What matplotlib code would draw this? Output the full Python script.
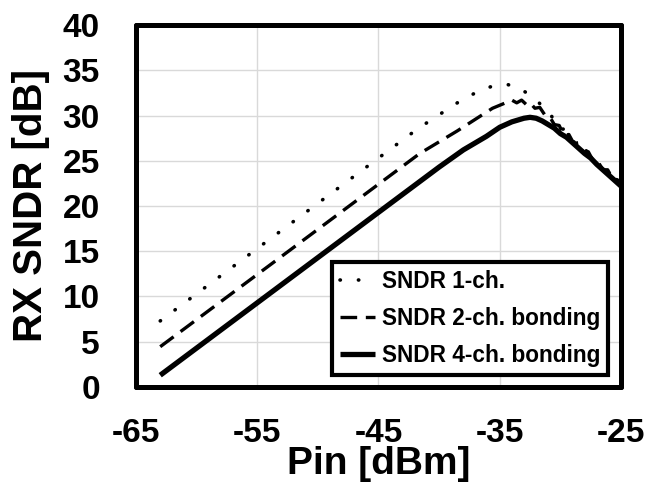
import numpy as np
import matplotlib
matplotlib.use('Agg')
import matplotlib.pyplot as plt

plt.rcParams['font.family'] = ['Liberation Sans', 'DejaVu Sans']
plt.rcParams['font.weight'] = 'bold'
plt.rcParams['axes.unicode_minus'] = False

# SNDR 1-ch. (dotted)
pin_1ch = [-63, -41.6, -40.3, -39.1, -37.9, -36.7, -35.5, -34.3, -33.3, -32.6, -31.9, -31.4, -30.9,
           -30.6, -30.3, -30.0, -29.7, -29.4, -29.1, -28.8, -28.5, -28.2, -27.9, -27.6, -27.3,
           -27.0, -26.7, -26.4, -26.1, -25.8, -25.5, -25.2, -25.0]
sndr_1ch = [7.3, 28.7, 29.8, 30.9, 31.9, 32.7, 33.3, 33.4, 33.0, 32.3, 31.6, 30.9, 30.4,
            29.6, 29.4, 28.5, 28.5, 27.7, 27.6, 26.9, 27.0, 26.2, 26.2, 25.4, 25.5,
            24.6, 24.6, 23.9, 23.9, 23.2, 23.1, 22.5, 22.3]

# SNDR 2-ch. bonding (dashed)
pin_2ch = [-63, -41.6, -38.5, -35.6, -34.7, -34.0, -33.6, -33.2, -32.8, -32.5, -32.1, -31.7,
           -31.3, -30.9, -30.5, -30.1, -29.7, -29.3, -28.9, -28.5, -28.1, -27.7, -27.3, -26.9,
           -26.5, -26.1, -25.7, -25.3, -25.0]
sndr_2ch = [4.45, 25.8, 28.3, 30.8, 31.3, 31.7, 31.4, 31.7, 31.2, 31.4, 30.8, 30.9,
            30.1, 29.9, 29.0, 28.9, 27.8, 27.9, 26.9, 27.0, 25.9, 26.0, 25.0, 24.9,
            24.0, 24.0, 23.0, 22.9, 22.3]

# SNDR 4-ch. bonding (solid)
pin_4ch = [-63, -40, -38, -36.1, -35, -34, -33, -32.5, -32, -31.5, -31, -30.5, -30, -29.5, -29,
           -28.5, -28, -27.5, -27, -26.5, -26, -25.5, -25]
sndr_4ch = [1.3, 24.3, 26.2, 27.7, 28.7, 29.3, 29.7, 29.8, 29.7, 29.4, 29.0, 28.6, 28.0, 27.6, 27.0,
            26.4, 25.8, 25.3, 24.6, 24.0, 23.4, 22.8, 22.2]

x_ticks = [-65, -55, -45, -35, -25]
y_ticks = [0, 5, 10, 15, 20, 25, 30, 35, 40]

fig = plt.figure(figsize=(6.5, 4.83), dpi=100)
ax = fig.add_axes([0.2092, 0.1988, 0.7462, 0.7494])

ax.plot(pin_1ch, sndr_1ch, color='black', lw=2.6, linestyle=(0, (0.1, 5.0)),
        dash_capstyle='round', label='SNDR 1-ch.')
ax.plot(pin_2ch, sndr_2ch, color='black', lw=2.4, linestyle=(0, (5, 2.6)),
        label='SNDR 2-ch. bonding')
ax.plot(pin_4ch, sndr_4ch, color='black', lw=3.8, solid_capstyle='butt',
        label='SNDR 4-ch. bonding')

ax.set_xlim(-65, -25)
ax.set_ylim(0, 40)
ax.set_xticks(x_ticks)
ax.set_yticks(y_ticks)
ax.grid(True, color='#d9d9d9', lw=1)
ax.set_axisbelow(True)
ax.tick_params(length=0, labelsize=24)
ax.tick_params(axis='y', pad=26)
ax.tick_params(axis='x', pad=22)
for lab in ax.get_xticklabels() + ax.get_yticklabels():
    lab.set_fontweight('bold')

for sp in ax.spines.values():
    sp.set_linewidth(3.6)
    sp.set_capstyle('round')

ax.set_xlabel('Pin [dBm]', fontsize=28, fontweight='bold', labelpad=-2)
ax.set_ylabel('RX SNDR [dB]', fontsize=29, fontweight='bold', labelpad=9)

leg = ax.legend(loc='lower right', bbox_to_anchor=(0.973, 0.033), fontsize=16.3,
                fancybox=False, framealpha=1, edgecolor='black', handlelength=1.55,
                handletextpad=0.3, labelspacing=0.62, borderpad=0.35, borderaxespad=0)
leg.get_frame().set_linewidth(3)
for t in leg.get_texts():
    t.set_fontweight('bold')

fig.savefig('out.png', dpi=100)
